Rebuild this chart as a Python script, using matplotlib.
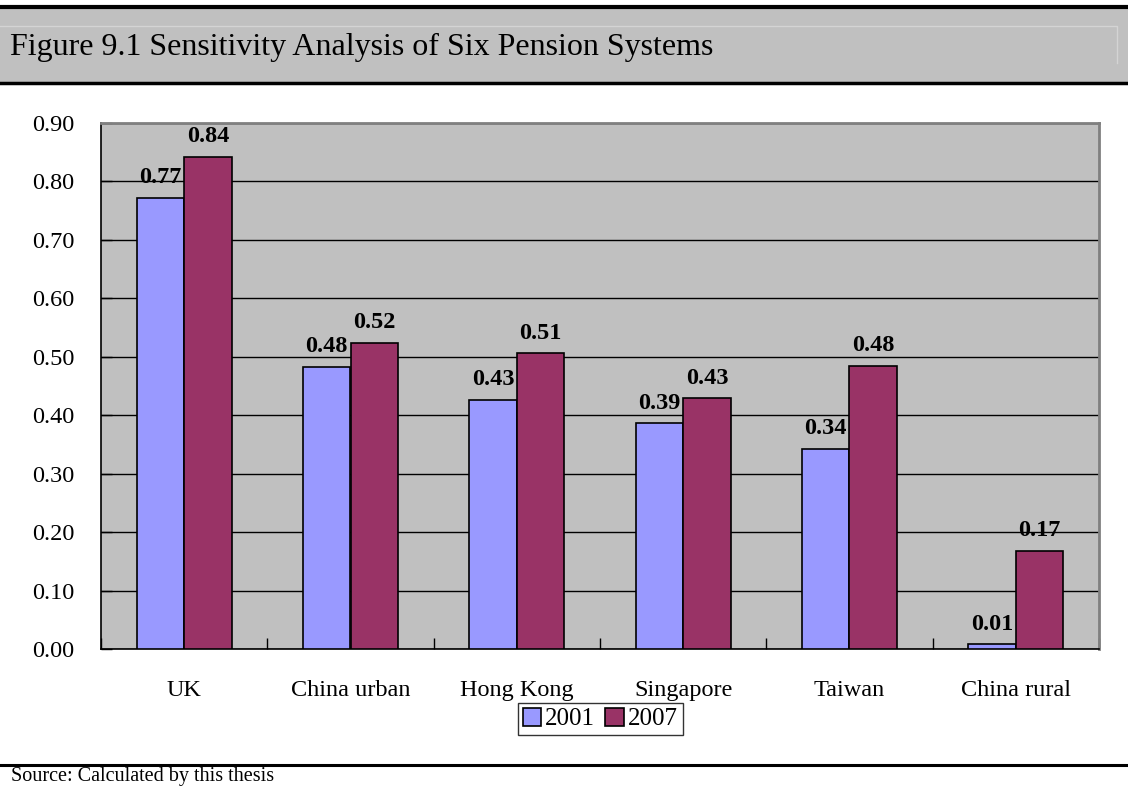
import matplotlib.pyplot as plt
import numpy as np
from matplotlib.patches import Rectangle
from matplotlib.lines import Line2D

plt.rcParams['font.family'] = ['Liberation Serif', 'DejaVu Serif']

categories = ['UK', 'China urban', 'Hong Kong', 'Singapore', 'Taiwan', 'China rural']
vals_2001 = [0.772, 0.483, 0.426, 0.386, 0.343, 0.008]
vals_2007 = [0.842, 0.524, 0.506, 0.429, 0.485, 0.168]
labels_2001 = ['0.77', '0.48', '0.43', '0.39', '0.34', '0.01']
labels_2007 = ['0.84', '0.52', '0.51', '0.43', '0.48', '0.17']
yticks = [0.0, 0.1, 0.2, 0.3, 0.4, 0.5, 0.6, 0.7, 0.8, 0.9]

W, H = 1128, 787
fig = plt.figure(figsize=(W / 100, H / 100), dpi=100)

# title bar
fig.patches.append(Rectangle((0, 1 - 83 / H), 1, 76 / H, transform=fig.transFigure,
                             facecolor='#c0c0c0', edgecolor='none', zorder=0))
fig.lines.append(Line2D([0, 1117 / W, 1117 / W], [1 - 26 / H, 1 - 26 / H, 1 - 63 / H],
                        transform=fig.transFigure, color='#d4d4d4', lw=1))
for yy, lw in [(7, 3), (83, 2.5), (765, 2.2)]:
    fig.lines.append(Line2D([0, 1], [1 - yy / H, 1 - yy / H], transform=fig.transFigure,
                            color='black', lw=lw))
fig.text(10 / W, 1 - 47 / H, 'Figure 9.1 Sensitivity Analysis of Six Pension Systems',
         fontsize=23, va='center', ha='left')
fig.text(11 / W, 1 - 776 / H, 'Source: Calculated by this thesis',
         fontsize=14.5, va='center', ha='left')

ax = fig.add_axes([101 / W, 1 - 649 / H, 998 / W, 526 / H])
ax.set_facecolor('#c0c0c0')

x = np.arange(len(categories))
bw = 0.286
b1 = ax.bar(x - bw / 2, vals_2001, bw, color='#9999ff', edgecolor='black', lw=1.2,
            label='2001', zorder=3)
b2 = ax.bar(x + bw / 2, vals_2007, bw, color='#993366', edgecolor='black', lw=1.2,
            label='2007', zorder=3)

for bars, labs in [(b1, labels_2001), (b2, labels_2007)]:
    for rect, lab in zip(bars, labs):
        ax.annotate(lab, (rect.get_x() + rect.get_width() / 2, rect.get_height()),
                    xytext=(0, 7), textcoords='offset points', ha='center', va='bottom',
                    fontsize=17.5, fontweight='bold', zorder=4)

ax.set_xlim(-0.5, len(categories) - 0.5)
ax.set_ylim(0, 0.9)
ax.set_yticks(yticks)
ax.set_yticklabels([f'{v:.2f}' for v in yticks], fontsize=17.5)
ax.yaxis.grid(True, color='black', lw=1)
ax.set_axisbelow(True)
ax.tick_params(axis='y', direction='in', length=8, width=1, pad=19)

ax.set_xticks(x)
ax.set_xticklabels(categories, fontsize=17.5)
ax.set_xticks(np.arange(len(categories) + 1) - 0.5, minor=True)
ax.tick_params(axis='x', which='major', length=0, pad=22)
ax.tick_params(axis='x', which='minor', direction='in', length=8, width=1)

for s in ['top', 'right']:
    ax.spines[s].set_color('#808080')
    ax.spines[s].set_linewidth(2)
for s in ['left', 'bottom']:
    ax.spines[s].set_color('black')
    ax.spines[s].set_linewidth(1.2)

leg = fig.legend(handles=[b1, b2], loc='center', bbox_to_anchor=(600 / W, 1 - 719 / H),
                 ncol=2, fontsize=18, frameon=True, fancybox=False, edgecolor='black',
                 handlelength=0.75, handleheight=0.75, handletextpad=0.15, columnspacing=0.4,
                 borderpad=0.2, borderaxespad=0)
leg.get_frame().set_linewidth(1)

fig.savefig('out.png', dpi=100)
